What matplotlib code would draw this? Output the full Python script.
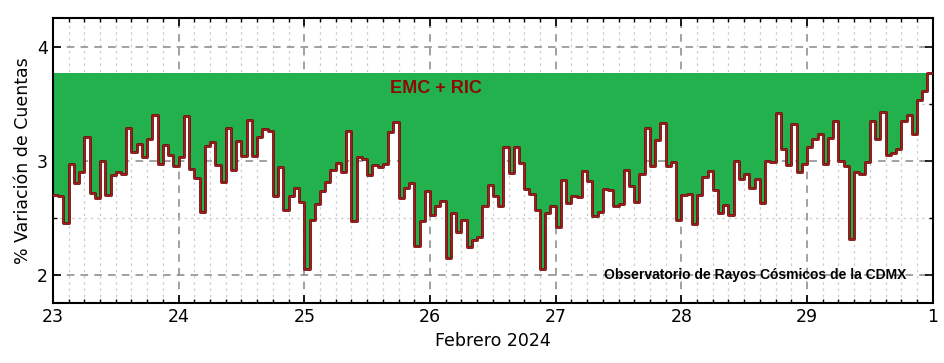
import numpy as np
import matplotlib.pyplot as plt
from matplotlib.ticker import MultipleLocator

# hourly values, 23 Feb 00h -> 29 Feb 23h
day23 = [2.70, 2.69, 2.45, 2.97, 2.80, 2.90, 3.21, 2.72, 2.67, 3.00, 2.70, 2.87,
         2.90, 2.88, 3.29, 3.08, 3.15, 3.03, 3.19, 3.40, 2.97, 3.14, 3.05, 2.95]
day24 = [3.03, 3.39, 2.93, 2.85, 2.55, 3.13, 3.16, 2.96, 2.81, 3.29, 2.92, 3.17,
         3.04, 3.36, 3.04, 3.21, 3.28, 3.26, 2.69, 2.94, 2.57, 2.69, 2.76, 2.64]
day25 = [2.05, 2.48, 2.62, 2.73, 2.81, 2.92, 2.98, 2.90, 3.26, 2.47, 3.03, 3.01,
         2.87, 2.96, 2.94, 2.97, 3.25, 3.34, 2.67, 2.76, 2.80, 2.25, 2.47, 2.73]
day26 = [2.52, 2.60, 2.65, 2.15, 2.54, 2.37, 2.48, 2.24, 2.30, 2.33, 2.60, 2.79,
         2.69, 2.60, 3.12, 2.89, 3.12, 2.98, 2.75, 2.71, 2.57, 2.05, 2.54, 2.60]
day27 = [2.42, 2.83, 2.63, 2.69, 2.68, 2.91, 2.82, 2.51, 2.55, 2.75, 2.74, 2.60,
         2.62, 2.92, 2.78, 2.64, 2.88, 3.29, 2.95, 3.18, 3.33, 2.95, 2.99, 2.48]
day28 = [2.70, 2.71, 2.44, 2.70, 2.86, 2.91, 2.74, 2.54, 2.61, 2.52, 3.00, 2.84,
         2.88, 2.76, 2.84, 2.63, 3.00, 2.99, 3.42, 3.10, 2.96, 3.32, 2.90, 2.97]
day29 = [3.12, 3.19, 3.23, 2.97, 3.20, 3.35, 3.00, 2.95, 2.31, 2.90, 2.88, 2.99,
         3.35, 3.19, 3.43, 3.05, 3.07, 3.10, 3.35, 3.40, 3.23, 3.53, 3.61, 3.77]

vals = np.array(day23 + day24 + day25 + day26 + day27 + day28 + day29)
t = 23 + np.arange(len(vals) + 1) / 24.0
v = np.append(vals, vals[-1])
top = vals.max()

day_ticks = [23, 24, 25, 26, 27, 28, 29, 30]
day_labels = ['23', '24', '25', '26', '27', '28', '29', '1']

fig = plt.figure(figsize=(9.45, 3.63), dpi=100)
ax = fig.add_axes([0.056, 0.165, 0.931, 0.785])

ax.fill_between(t, v, top, step='post', color='#22b14c', lw=0, zorder=2)
ax.step(t, v, where='post', color='#6a0e0e', lw=2.0, zorder=3)
ax.step(t, v, where='post', color='#a81c1c', lw=0.9, zorder=4)

ax.set_xlim(23, 30)
ax.set_ylim(1.75, 4.25)
ax.set_xticks(day_ticks)
ax.set_xticklabels(day_labels)
ax.xaxis.set_minor_locator(MultipleLocator(1 / 8))
ax.set_yticks([2, 3, 4])
ax.yaxis.set_minor_locator(MultipleLocator(0.5))

ax.grid(which='major', color='#888888', ls=(0, (5, 4)), lw=1.1, zorder=1)
ax.grid(which='minor', color='#cccccc', ls=(0, (2, 3)), lw=0.9, zorder=1)
ax.set_axisbelow(True)

ax.tick_params(which='both', direction='in', top=True, right=True, labelsize=12.5)
ax.tick_params(which='major', length=6, width=1.2)
ax.tick_params(which='minor', length=3, width=1)
for s in ax.spines.values():
    s.set_linewidth(1.5)

ax.set_xlabel('Febrero 2024', fontsize=12.5)
ax.set_ylabel('% Variación de Cuentas', fontsize=12.5)

ax.text(26.05, 3.63, 'EMC + RIC', color='#8b0a0a', fontsize=13, fontweight='bold',
        family=['Liberation Sans', 'DejaVu Sans'], ha='center', va='center', zorder=5)
ax.text(28.59, 2.0, 'Observatorio de Rayos Cósmicos de la CDMX', color='black',
        fontsize=10, fontweight='bold', family=['Liberation Sans', 'DejaVu Sans'],
        ha='center', va='center', zorder=5)

fig.savefig('out.png', dpi=100)
